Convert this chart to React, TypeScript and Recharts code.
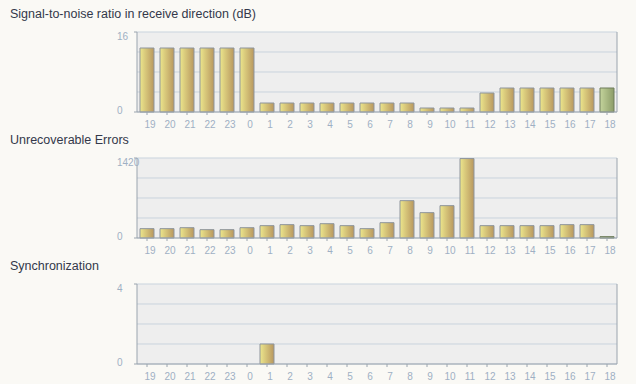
import React from 'react';
import { BarChart, Bar, XAxis, YAxis, CartesianGrid, Cell } from 'recharts';

const hours = ['19', '20', '21', '22', '23', '0', '1', '2', '3', '4', '5', '6', '7', '8', '9', '10', '11', '12', '13', '14', '15', '16', '17', '18'];

const snrValues = [12.8, 12.8, 12.8, 12.8, 12.8, 12.8, 1.8, 1.8, 1.8, 1.8, 1.8, 1.8, 1.8, 1.8, 0.8, 0.8, 0.8, 3.8, 4.8, 4.8, 4.8, 4.8, 4.8, 4.8];
const errorValues = [166, 166, 183, 148, 148, 183, 219, 237, 219, 254, 219, 166, 272, 663, 450, 574, 1410, 219, 219, 219, 219, 237, 237, 24];
const syncValues = [0, 0, 0, 0, 0, 0, 1, 0, 0, 0, 0, 0, 0, 0, 0, 0, 0, 0, 0, 0, 0, 0, 0, 0];

const snrTicks = [0, 4, 8, 12, 16];
const errorTicks = [0, 355, 710, 1065, 1420];
const syncTicks = [0, 1, 2, 3, 4];

const titles = ['Signal-to-noise ratio in receive direction (dB)', 'Unrecoverable Errors', 'Synchronization'];

const AXIS = '#9aa4ae';
const GRID = '#c9d3dd';
const LABEL = '#9fb0c4';
const PLOT_LEFT = 137;
const PLOT_RIGHT = 617;
const CHART_W = 636;
const FONT = 'Arial, "Liberation Sans", sans-serif';

type PanelProps = {
  id: string;
  values: number[];
  ticks: number[];
  top: number;
};

// only the first and last value get a label, the rest are grid lines only
const YTick = (props: any) => {
  const { y, payload, max } = props;
  const v = payload.value;
  if (v !== 0 && v !== max) return <g />;
  const isTop = v === max;
  return (
    <g>
      <line x1={PLOT_LEFT - 3} x2={PLOT_LEFT} y1={y} y2={y} stroke={AXIS} />
      <text x={117} y={isTop ? y + 7.5 : y + 1.5} fill={LABEL} fontSize={10} fontFamily={FONT} textAnchor='start'>
        {v}
      </text>
    </g>
  );
};

const Panel: React.FC<PanelProps> = ({ id, values, ticks, top }) => {
  const data = hours.map((h, i) => ({ hour: h, value: values[i] }));
  const max = ticks[ticks.length - 1];
  return (
    <div style={{ position: 'absolute', left: 0, top }}>
      <BarChart
        width={CHART_W}
        height={132}
        data={data}
        margin={{ top: 32, right: CHART_W - PLOT_RIGHT, bottom: 0, left: 0 }}
      >
        <defs>
          <linearGradient id={`${id}-y`} x1='0' y1='0' x2='1' y2='0'>
            <stop offset='0%' stopColor='#ece68c' />
            <stop offset='100%' stopColor='#b8975f' />
          </linearGradient>
          <linearGradient id={`${id}-g`} x1='0' y1='0' x2='1' y2='0'>
            <stop offset='0%' stopColor='#c4d49c' />
            <stop offset='100%' stopColor='#8c9c68' />
          </linearGradient>
        </defs>
        <CartesianGrid vertical={false} stroke={GRID} fill='#eeeeee' fillOpacity={1} />
        <CartesianGrid horizontal={false} verticalPoints={[PLOT_RIGHT]} stroke={AXIS} />
        <XAxis
          dataKey='hour'
          interval={0}
          height={20}
          tickSize={3}
          tickMargin={6}
          stroke={AXIS}
          tick={{ fill: LABEL, fontSize: 10, fontFamily: FONT, dx: 3 }}
        />
        <YAxis
          width={PLOT_LEFT}
          domain={[0, max]}
          ticks={ticks}
          interval={0}
          tickLine={false}
          stroke={AXIS}
          tick={<YTick max={max} />}
        />
        <Bar dataKey='value' barSize={14} stroke='#8e959c' strokeWidth={1} isAnimationActive={false}>
          {data.map((d, i) => (
            <Cell
              key={d.hour}
              fill={i === data.length - 1 ? `url(#${id}-g)` : `url(#${id}-y)`}
              stroke={i === data.length - 1 ? '#6f7d5c' : '#8e959c'}
            />
          ))}
        </Bar>
      </BarChart>
    </div>
  );
};

const titleTops = [7.7, 134.4, 260.4];

export default function App() {
  return (
    <div
      style={{
        position: 'fixed',
        left: 0,
        top: 0,
        width: CHART_W,
        height: 384,
        background: '#faf9f5',
        fontFamily: FONT,
        overflow: 'hidden',
      }}
    >
      {titles.map((t, i) => (
        <div
          key={t}
          style={{ position: 'absolute', left: 10, top: titleTops[i], fontSize: 12.5, lineHeight: 1, color: '#33384a', whiteSpace: 'nowrap' }}
        >
          {t}
        </div>
      ))}
      <Panel id='snr' values={snrValues} ticks={snrTicks} top={0} />
      <Panel id='err' values={errorValues} ticks={errorTicks} top={126} />
      <Panel id='sync' values={syncValues} ticks={syncTicks} top={252} />
    </div>
  );
}
